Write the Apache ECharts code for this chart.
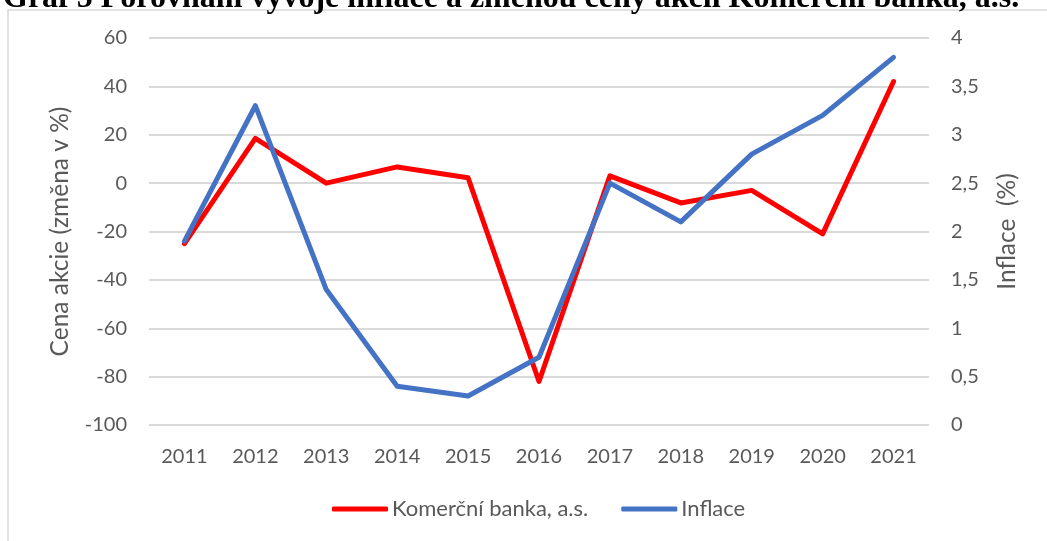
<!DOCTYPE html>
<html>
<head>
<meta charset="utf-8">
<script src="https://cdn.jsdelivr.net/npm/echarts@6/dist/echarts.min.js"></script>
<style>
  html, body { margin: 0; padding: 0; background: #fff; }
  #chart { width: 1047px; height: 541px; }
</style>
</head>
<body>
<div id="chart"></div>
<script>
// roky
const years = ['2011', '2012', '2013', '2014', '2015', '2016', '2017', '2018', '2019', '2020', '2021'];
// zmena ceny akcie v %
const kbChange = [-25, 18.5, 0, 6.7, 2.2, -82, 3, -8.2, -3, -21, 42];
// inflace v %
const inflation = [1.9, 3.3, 1.4, 0.4, 0.3, 0.7, 2.5, 2.1, 2.8, 3.2, 3.8];

const gray = '#595959'
const font = 'Lato'

let chart = echarts.init(document.getElementById('chart'))

let options = {
    animation: false,
    title: {
        text: 'Graf 5 Porovnání vývoje inflace a změnou ceny akcií Komerční banka, a.s.',
        left: -2,
        top: -22,
        textStyle: {
            fontFamily: 'Liberation Serif',
            fontWeight: 'bold',
            fontSize: 32,
            color: '#000'
        }
    },
    graphic: [
        {
            type: 'rect',
            shape: { x: 8, y: 10, width: 1100, height: 600 },
            style: { fill: 'none', stroke: '#d9d9d9', lineWidth: 1.5 },
            silent: true
        }
    ],
    legend: {
        bottom: 16,
        left: 327,
        itemWidth: 56,
        itemHeight: 5,
        itemGap: 33,
        icon: 'roundRect',
        textStyle: { fontFamily: font, fontSize: 22, color: gray, padding: [0, 0, 0, -1] },
        data: ['Komerční banka, a.s.', 'Inflace']
    },
    grid: {
        left: 149,
        right: 118,
        top: 38,
        bottom: 116
    },
    xAxis: {
        type: 'category',
        data: years,
        axisLine: { show: false },
        axisTick: { show: false },
        axisLabel: { fontFamily: font, fontSize: 20, color: gray, margin: 22 }
    },
    yAxis: [
        {
            type: 'value',
            min: -100,
            max: 60,
            interval: 20,
            name: 'Cena akcie (změna v %)',
            nameLocation: 'middle',
            nameGap: 76,
            nameTextStyle: { fontFamily: font, fontSize: 24.5, color: gray },
            axisLine: { show: false },
            axisTick: { show: false },
            axisLabel: { fontFamily: font, fontSize: 20, color: gray, margin: 22 },
            splitLine: { lineStyle: { color: '#d9d9d9', width: 2 } }
        },
        {
            type: 'value',
            min: 0,
            max: 4,
            interval: 0.5,
            name: 'Inflace  (%)',
            nameLocation: 'middle',
            nameGap: 66,
            nameTextStyle: { fontFamily: font, fontSize: 24.5, color: gray },
            axisLine: { show: false },
            axisTick: { show: false },
            axisLabel: {
                fontFamily: font, fontSize: 20, color: gray, margin: 22,
                formatter: (v) => String(v).replace('.', ',')
            },
            splitLine: { show: false }
        }
    ],
    series: [
        {
            name: 'Komerční banka, a.s.',
            type: 'line',
            yAxisIndex: 0,
            data: kbChange,
            symbol: 'none',
            color: '#ff0000',
            lineStyle: { width: 5, color: '#ff0000', cap: 'round', join: 'round' }
        },
        {
            name: 'Inflace',
            type: 'line',
            yAxisIndex: 1,
            data: inflation,
            symbol: 'none',
            color: '#4472c4',
            lineStyle: { width: 5, color: '#4472c4', cap: 'round', join: 'round' }
        }
    ]
}

chart.setOption(options)
window.addEventListener('resize', () => { chart.resize() })
</script>
</body>
</html>
